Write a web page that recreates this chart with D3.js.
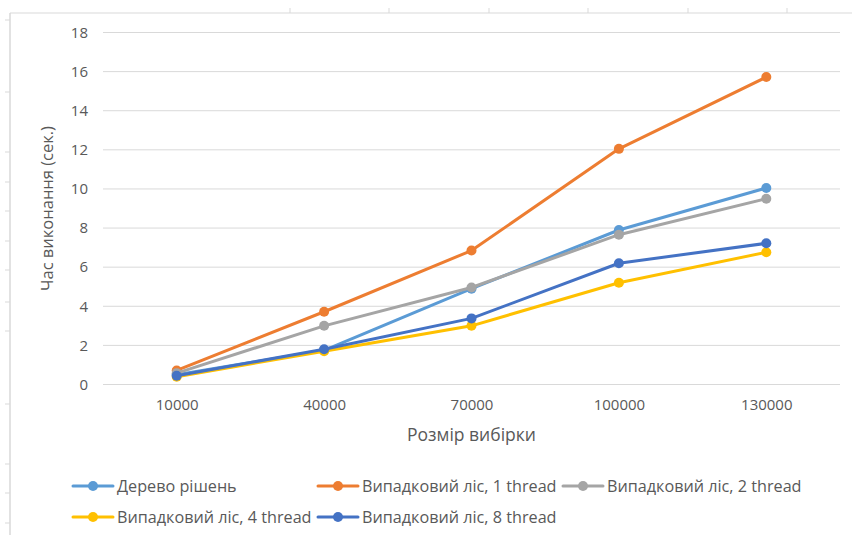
<!DOCTYPE html>
<html>
<head>
<meta charset="utf-8">
<script src="https://cdn.jsdelivr.net/npm/d3@7"></script>
<style>
  body { margin: 0; background: #fff; }
  svg { display: block; font-family: "Open Sans", sans-serif; }
</style>
</head>
<body>
<div id="chart"></div>
<script>
// sample sizes and run times (seconds)
const sizes = ["10000", "40000", "70000", "100000", "130000"];
const seriesNames = [
  "Дерево рішень",
  "Випадковий ліс, 1 thread",
  "Випадковий ліс, 2 thread",
  "Випадковий ліс, 4 thread",
  "Випадковий ліс, 8 thread"
];
const treeTimes = [0.5, 1.75, 4.9, 7.9, 10.05];
const forest1Times = [0.72, 3.72, 6.85, 12.05, 15.72];
const forest2Times = [0.58, 3.0, 4.96, 7.66, 9.5];
const forest4Times = [0.4, 1.7, 3.0, 5.2, 6.76];
const forest8Times = [0.45, 1.8, 3.38, 6.2, 7.22];
const yTicks = [0, 2, 4, 6, 8, 10, 12, 14, 16, 18];
const colors = ["#5B9BD5", "#ED7D31", "#A5A5A5", "#FFC000", "#4472C4"];

const series = seriesNames.map((name, i) => ({
  name: name,
  color: colors[i],
  values: [treeTimes, forest1Times, forest2Times, forest4Times, forest8Times][i]
}));

const width = 852, height = 535;
const plot = { left: 103, right: 840, top: 32.5, bottom: 384.5 };

const svg = d3.select("#chart")
  .append("svg")
  .attr("width", width)
  .attr("height", height);

// spreadsheet frame behind the chart (sheet border with row/column marks)
const frameColor = "#d9d9d9";
svg.append("line")
  .attr("x1", 10).attr("x2", width).attr("y1", 13).attr("y2", 13)
  .attr("stroke", frameColor);
svg.append("line")
  .attr("x1", 10).attr("x2", 10).attr("y1", 13).attr("y2", height)
  .attr("stroke", frameColor).attr("stroke-width", 1.5);
svg.selectAll(".colmark")
  .data([290, 389, 489, 588, 688, 787])
  .enter().append("line")
    .attr("x1", d => d).attr("x2", d => d)
    .attr("y1", 8).attr("y2", 13)
    .attr("stroke", frameColor);
svg.selectAll(".rowmark")
  .data([20, 92, 152, 182, 211, 241, 270, 302, 331, 404, 464, 493, 523])
  .enter().append("line")
    .attr("x1", 5).attr("x2", 10)
    .attr("y1", d => d).attr("y2", d => d)
    .attr("stroke", frameColor);

// scales
const x = d3.scalePoint()
  .domain(sizes)
  .range([plot.left, plot.right])
  .padding(0.5);

const y = d3.scaleLinear()
  .domain([0, 18])
  .range([plot.bottom, plot.top]);

// horizontal gridlines
svg.append("g")
  .selectAll("line")
  .data(yTicks)
  .enter().append("line")
    .attr("x1", plot.left).attr("x2", plot.right)
    .attr("y1", d => y(d)).attr("y2", d => y(d))
    .attr("stroke", "#d9d9d9")
    .attr("stroke-width", 1);

// y axis labels
const yAxis = svg.append("g")
  .attr("transform", `translate(${plot.left - 15},0)`)
  .call(d3.axisLeft(y).tickValues(yTicks).tickSize(0).tickPadding(0));
yAxis.select(".domain").remove();
yAxis.selectAll("text")
  .style("font-size", "15px")
  .style("font-family", "Open Sans")
  .attr("fill", "#595959");

// x axis labels
const xAxis = svg.append("g")
  .attr("transform", `translate(0,${plot.bottom + 15})`)
  .call(d3.axisBottom(x).tickSize(0).tickPadding(0));
xAxis.select(".domain").remove();
xAxis.selectAll("text")
  .style("font-size", "15px")
  .style("font-family", "Open Sans")
  .attr("fill", "#595959");

// axis titles
svg.append("text")
  .attr("x", (plot.left + plot.right) / 2)
  .attr("y", 441)
  .attr("text-anchor", "middle")
  .style("font-size", "17.5px")
  .attr("fill", "#595959")
  .text("Розмір вибірки");

svg.append("text")
  .attr("transform", `translate(53,${(plot.top + plot.bottom) / 2}) rotate(-90)`)
  .attr("text-anchor", "middle")
  .style("font-size", "16.5px")
  .attr("fill", "#595959")
  .text("Час виконання (сек.)");

// lines and markers
const line = d3.line()
  .x((d, i) => x(sizes[i]))
  .y(d => y(d));

const groups = svg.selectAll(".series")
  .data(series)
  .enter().append("g")
    .attr("class", "series");

groups.append("path")
  .attr("d", d => line(d.values))
  .attr("fill", "none")
  .attr("stroke", d => d.color)
  .attr("stroke-width", 3)
  .attr("stroke-linejoin", "round")
  .attr("stroke-linecap", "round");

groups.selectAll("circle")
  .data(d => d.values.map((v, i) => ({ v: v, i: i, color: d.color })))
  .enter().append("circle")
    .attr("cx", d => x(sizes[d.i]))
    .attr("cy", d => y(d.v))
    .attr("r", 5)
    .attr("fill", d => d.color);

// legend, laid out in three columns
const legend = svg.append("g");
const colWidth = 245;
const legendItems = legend.selectAll(".item")
  .data(series)
  .enter().append("g")
    .attr("transform", (d, i) => `translate(${73 + (i % 3) * colWidth},${486 + Math.floor(i / 3) * 31})`);

legendItems.append("line")
  .attr("x1", 0).attr("x2", 40)
  .attr("stroke", d => d.color)
  .attr("stroke-width", 3)
  .attr("stroke-linecap", "round");
legendItems.append("circle")
  .attr("cx", 20)
  .attr("r", 5)
  .attr("fill", d => d.color);
legendItems.append("text")
  .attr("x", 44)
  .attr("dy", "0.35em")
  .style("font-size", "16.2px")
  .attr("fill", "#595959")
  .text(d => d.name);
</script>
</body>
</html>
